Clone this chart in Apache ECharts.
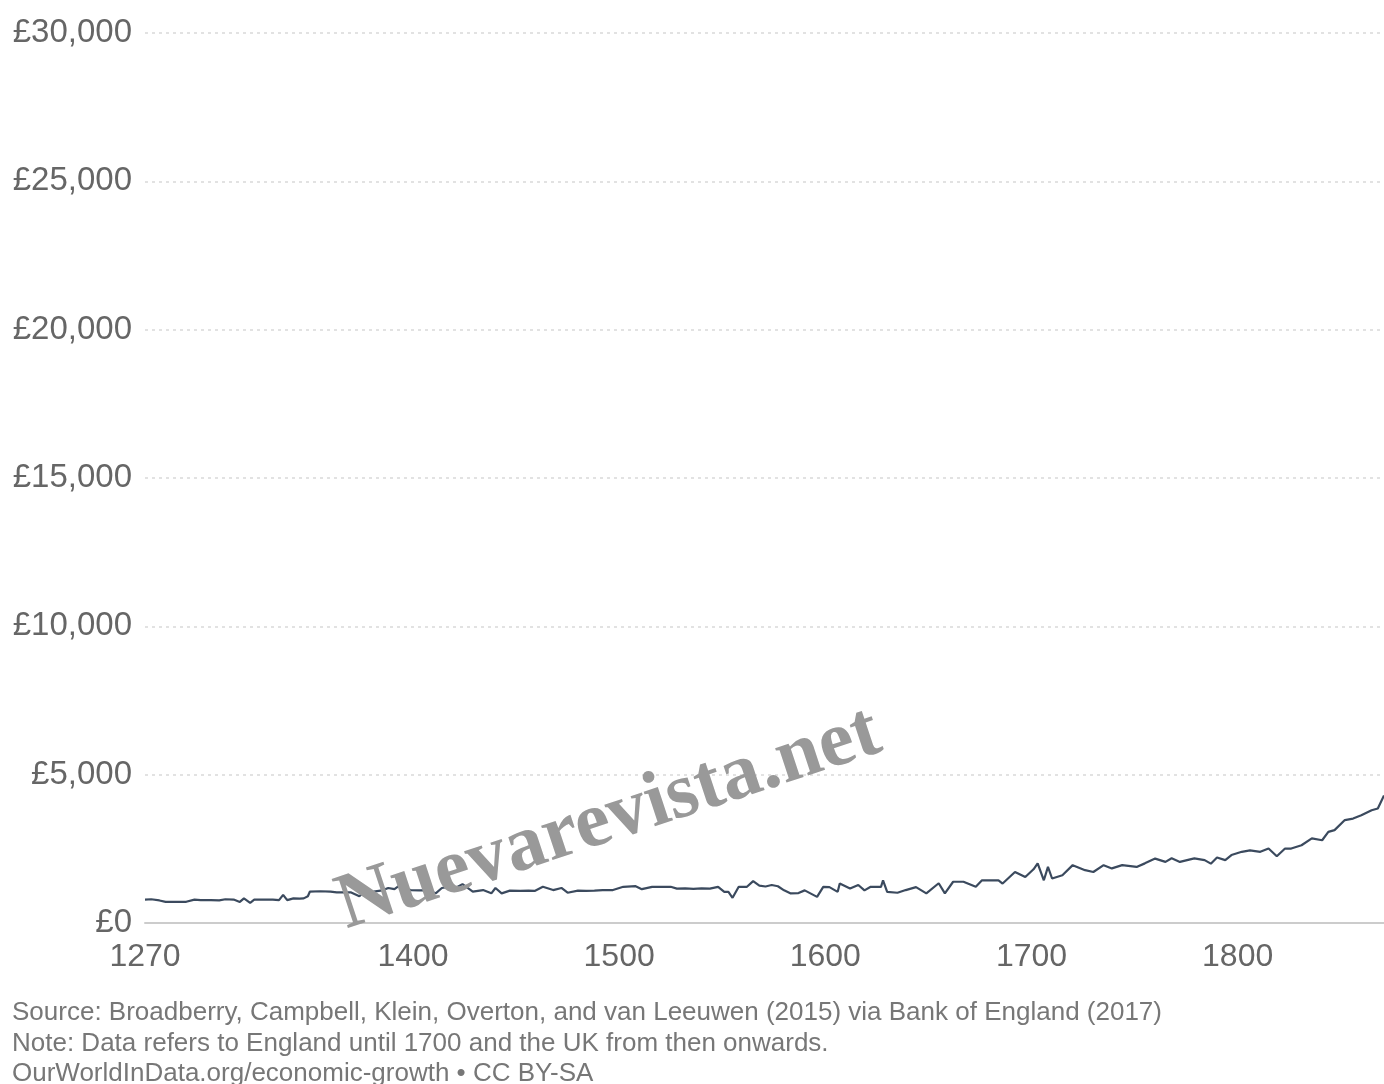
<!DOCTYPE html>
<html>
<head>
<meta charset="utf-8">
<script src="https://cdn.jsdelivr.net/npm/echarts@6/dist/echarts.min.js"></script>
<style>
html,body{margin:0;padding:0;background:#fff;}
#chart{width:1384px;height:1084px;}
</style>
</head>
<body>
<div id="chart"></div>
<script>
var years = [1270,1273,1277,1280,1285,1290,1294,1297,1302,1306,1309,1313,1316,1318,1321,1323,1328,1332,1335,1337,1339,1342,1345,1347,1349,1350,1355,1360,1363,1367,1370,1374,1376,1381,1385,1388,1391,1394,1396,1399,1403,1407,1411,1414,1417,1421,1424,1429,1434,1438,1440,1443,1447,1452,1456,1459,1463,1468,1472,1475,1480,1484,1488,1492,1497,1502,1508,1511,1516,1520,1525,1528,1532,1536,1540,1544,1548,1551,1553,1555,1558,1562,1565,1568,1571,1574,1577,1580,1583,1587,1590,1593,1596,1599,1602,1606,1607,1612,1616,1619,1622,1627,1628,1630,1635,1639,1644,1649,1655,1658,1662,1667,1673,1676,1680,1684,1686,1692,1697,1701,1703,1706,1708,1710,1715,1720,1726,1730,1735,1739,1744,1751,1755,1760,1765,1768,1772,1779,1784,1787,1790,1794,1797,1802,1806,1811,1815,1819,1823,1826,1831,1836,1841,1844,1847,1852,1856,1860,1865,1868,1871];
var gdpPerCapita = [790,800,760,710,710,715,790,770,770,760,800,790,710,830,680,790,790,790,770,950,770,830,820,830,900,1060,1070,1060,1030,1030,1030,900,1030,1060,1100,1180,1140,1290,1150,1110,1100,1100,1000,1180,1220,1200,1310,1060,1110,1000,1180,1000,1090,1080,1090,1080,1220,1110,1180,1020,1090,1080,1090,1110,1110,1220,1240,1140,1220,1220,1220,1160,1170,1150,1170,1160,1220,1050,1050,850,1220,1220,1410,1260,1230,1280,1240,1100,1000,1010,1100,990,880,1220,1210,1050,1330,1160,1280,1100,1220,1220,1440,1050,1020,1110,1210,1000,1340,1000,1390,1390,1220,1440,1440,1440,1330,1720,1550,1810,2010,1440,1890,1500,1610,1950,1780,1720,1950,1840,1950,1890,2010,2170,2060,2180,2060,2180,2120,2000,2210,2120,2290,2400,2450,2400,2510,2250,2510,2510,2620,2850,2790,3070,3130,3470,3520,3630,3800,3860,4300];
var xTickLabels = [1270,1400,1500,1600,1700,1800];
var footerLines = [
  "Source: Broadberry, Campbell, Klein, Overton, and van Leeuwen (2015) via Bank of England (2017)",
  "Note: Data refers to England until 1700 and the UK from then onwards.",
  "OurWorldInData.org/economic-growth \u2022 CC BY-SA"
];
var watermark = "Nuevarevista.net";

var chart = echarts.init(document.getElementById('chart'));
var seriesData = years.map(function(y,i){return [y, gdpPerCapita[i]];});
var font = '"Liberation Sans", Arial, Helvetica, sans-serif';

var graphics = footerLines.map(function(t,i){
  return {type:'text', left:12, top:1000 + i*30.5, z:10,
    style:{text:t, fill:'#777', font:'26px ' + font}};
});
graphics.push({type:'text', x:609, y:820, rotation:0.32, z:100,
  style:{text:watermark, fill:'#999', font:'bold 79px "Liberation Serif", "Times New Roman", serif',
    textAlign:'center', textVerticalAlign:'middle'}});

chart.setOption({
  animation:false,
  backgroundColor:'#fff',
  grid:{left:145, right:0, top:33, bottom:161, containLabel:false},
  xAxis:{type:'value', min:1270, max:1871,
    axisLine:{show:true, lineStyle:{color:'#ccc', width:2}},
    axisTick:{show:false},
    splitLine:{show:false},
    axisLabel:{customValues:xTickLabels, color:'#666', fontSize:32, fontFamily:font, margin:18,
      formatter:function(v){return String(v);}}
  },
  yAxis:{type:'value', min:0, max:30000, interval:5000,
    axisLine:{show:false}, axisTick:{show:false},
    splitLine:{show:true, lineStyle:{color:'#d9d9d9', type:[3,4], width:1.5}},
    axisLabel:{color:'#666', fontSize:33, fontFamily:font, margin:13,
      formatter:function(v){return '\u00a3' + v.toLocaleString('en-US');}}
  },
  series:[{type:'line', data:seriesData, showSymbol:false, clip:true,
    lineStyle:{color:'#3b4a5e', width:2.2}, z:5}],
  graphic:graphics
});
</script>
</body>
</html>
